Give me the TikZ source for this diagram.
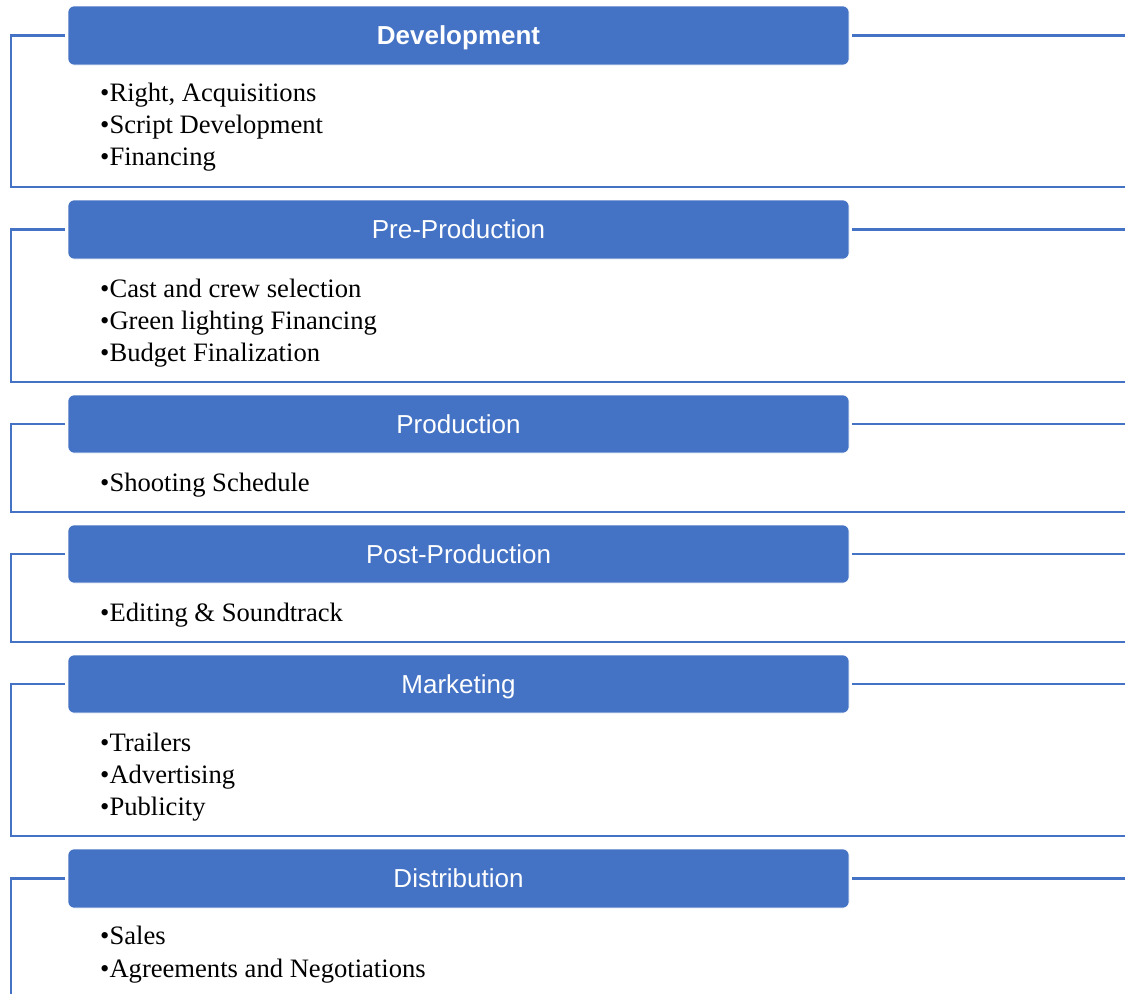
\documentclass[tikz,border=0pt]{standalone}
\usepackage{fontspec}
\setmainfont{Liberation Serif}
\newfontfamily\hdrfont{Liberation Sans}
\definecolor{accent}{HTML}{4472C4}
\begin{document}
\begin{tikzpicture}[x=1pt,y=-1pt,
  phase/.style={fill=accent, draw=white, line width=0.6pt, rounded corners=6pt,
    minimum width=781pt, minimum height=#1, inner sep=0pt, text=white,
    text height=19pt, text depth=1pt,
    font=\hdrfont\fontsize{26}{31}\selectfont},
  phase/.default=59pt,
  item/.style={anchor=base west, inner sep=0pt, font=\fontsize{26.6}{31}\selectfont},
  frame/.style={draw=accent, line width=2.4pt}]
\useasboundingbox (0,0) rectangle (1125,994);

% ---------- Development
\node[phase] (t1) at (458.5,35.5) {\textbf{Development}};
\node[item] (b11) at (100,101) {•Right, Acquisitions};
\node[item] (b12) at (100,133) {•Script Development};
\node[item] (b13) at (100,165) {•Financing};
\coordinate (l1a) at (65,35.5); \coordinate (l1b) at (11,35.5);
\coordinate (l1c) at (11,187); \coordinate (l1d) at (1125,187);
\coordinate (r1a) at (852,35.5); \coordinate (r1b) at (1125,35.5);
\draw[frame] (l1a) -- (l1b) -- (l1c) -- (l1d);
\draw[frame] (r1a) -- (r1b);

% ---------- Pre-Production
\node[phase] (t2) at (458.5,229.5) {Pre-Production};
\node[item] (b21) at (100,297) {•Cast and crew selection};
\node[item] (b22) at (100,329) {•Green lighting Financing};
\node[item] (b23) at (100,361) {•Budget Finalization};
\coordinate (l2a) at (65,229.5); \coordinate (l2b) at (11,229.5);
\coordinate (l2c) at (11,382); \coordinate (l2d) at (1125,382);
\coordinate (r2a) at (852,229.5); \coordinate (r2b) at (1125,229.5);
\draw[frame] (l2a) -- (l2b) -- (l2c) -- (l2d);
\draw[frame] (r2a) -- (r2b);

% ---------- Production
\node[phase=58pt] (t3) at (458.5,424) {Production};
\node[item] (b31) at (100,491) {•Shooting Schedule};
\coordinate (l3a) at (65,424); \coordinate (l3b) at (11,424);
\coordinate (l3c) at (11,512); \coordinate (l3d) at (1125,512);
\coordinate (r3a) at (852,424); \coordinate (r3b) at (1125,424);
\draw[frame] (l3a) -- (l3b) -- (l3c) -- (l3d);
\draw[frame] (r3a) -- (r3b);

% ---------- Post-Production
\node[phase=58pt] (t4) at (458.5,554) {Post-Production};
\node[item] (b41) at (100,621) {•Editing \& Soundtrack};
\coordinate (l4a) at (65,554); \coordinate (l4b) at (11,554);
\coordinate (l4c) at (11,642); \coordinate (l4d) at (1125,642);
\coordinate (r4a) at (852,554); \coordinate (r4b) at (1125,554);
\draw[frame] (l4a) -- (l4b) -- (l4c) -- (l4d);
\draw[frame] (r4a) -- (r4b);

% ---------- Marketing
\node[phase=58pt] (t5) at (458.5,684) {Marketing};
\node[item] (b51) at (100,751) {•Trailers};
\node[item] (b52) at (100,783) {•Advertising};
\node[item] (b53) at (100,815) {•Publicity};
\coordinate (l5a) at (65,684); \coordinate (l5b) at (11,684);
\coordinate (l5c) at (11,836); \coordinate (l5d) at (1125,836);
\coordinate (r5a) at (852,684); \coordinate (r5b) at (1125,684);
\draw[frame] (l5a) -- (l5b) -- (l5c) -- (l5d);
\draw[frame] (r5a) -- (r5b);

% ---------- Distribution
\node[phase] (t6) at (458.5,878.5) {Distribution};
\node[item] (b61) at (100,944) {•Sales};
\node[item] (b62) at (100,977) {•Agreements and Negotiations};
\coordinate (l6a) at (65,878.5); \coordinate (l6b) at (11,878.5);
\coordinate (l6c) at (11,994);
\coordinate (r6a) at (852,878.5); \coordinate (r6b) at (1125,878.5);
\draw[frame] (l6a) -- (l6b) -- (l6c);
\draw[frame] (r6a) -- (r6b);
\end{tikzpicture}
\end{document}
